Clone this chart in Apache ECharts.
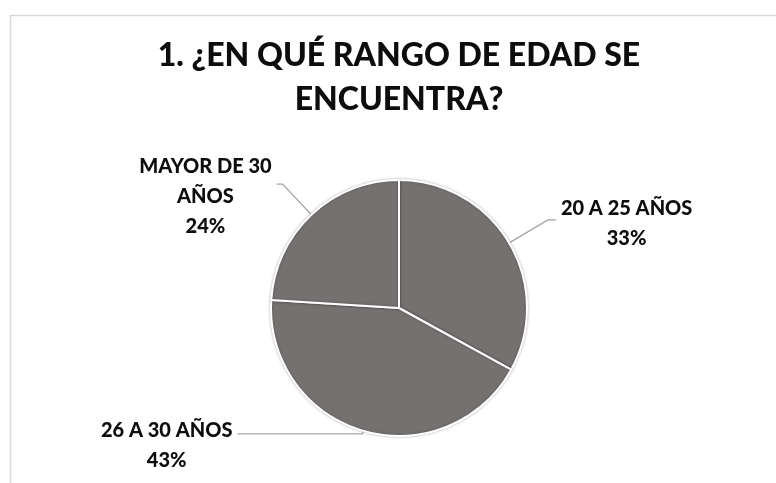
<!DOCTYPE html>
<html>
<head>
<meta charset="utf-8">
<title>Rango de edad</title>
<script src="https://cdn.jsdelivr.net/npm/echarts@6/dist/echarts.min.js"></script>
<style>
  html, body { margin: 0; padding: 0; background: #ffffff; }
  #chart { width: 776px; height: 483px; }
</style>
</head>
<body>
<div id="chart"></div>
<script>
// Survey question and answer groups
const chartTitle = '1. ¿EN QUÉ RANGO DE EDAD SE\nENCUENTRA?';
const categories = ['20 A 25 AÑOS', '26 A 30 AÑOS', 'MAYOR DE 30 AÑOS'];
const shares = [33, 43, 24];

// Per-slice label line lengths and vertical nudges of the label block
const labelTweaks = {
  '20 A 25 AÑOS':     { length: 45, length2: 8,   padTop: 8 },
  '26 A 30 AÑOS':     { length: 3,  length2: 125, padTop: 24 },
  'MAYOR DE 30 AÑOS': { length: 42, length2: 6,   padTop: 24 }
};

const FONT = 'Lato, "Open Sans", sans-serif';
const WEIGHT = 900;

// Break a category name into lines of at most `max` characters
function wrap(text, max) {
  const words = text.split(' ');
  const lines = [];
  let cur = '';
  words.forEach(function (w) {
    const next = cur ? cur + ' ' + w : w;
    if (next.length > max && cur) { lines.push(cur); cur = w; }
    else { cur = next; }
  });
  if (cur) lines.push(cur);
  return lines;
}

const pieData = categories.map(function (name, i) {
  const t = labelTweaks[name];
  return {
    name: name,
    value: shares[i],
    label: { padding: [t.padTop, 0, 0, 0] },
    labelLine: { length: t.length, length2: t.length2 }
  };
});

const chart = echarts.init(document.getElementById('chart'), null, { renderer: 'canvas' });

chart.setOption({
  backgroundColor: '#ffffff',
  animation: false,
  title: {
    text: chartTitle,
    left: 399,
    top: 34,
    padding: 0,
    textAlign: 'center',
    textStyle: {
      fontFamily: FONT,
      fontWeight: WEIGHT,
      fontSize: 32,
      lineHeight: 44,
      color: '#0d0d0d'
    }
  },
  graphic: [{
    type: 'rect',
    left: 8,
    top: 13,
    shape: { width: 800, height: 500 },
    style: { fill: 'none', stroke: '#d9d9d9', lineWidth: 1.5 },
    silent: true,
    z: -1
  }],
  series: [{
    type: 'pie',
    center: [399, 308],
    radius: 128,
    startAngle: 90,
    clockwise: true,
    avoidLabelOverlap: false,
    itemStyle: {
      color: '#767171',
      borderColor: '#ffffff',
      borderWidth: 2,
      shadowBlur: 3,
      shadowColor: 'rgba(0,0,0,0.25)'
    },
    label: {
      show: true,
      position: 'outside',
      distanceToLabelLine: 5,
      formatter: function (p) {
        const lines = wrap(p.name, 12);
        lines.push(Math.round(p.percent) + '%');
        return lines.map(function (l) { return '{c|' + l + '}'; }).join('\n');
      },
      rich: {
        c: {
          align: 'center',
          fontFamily: FONT,
          fontWeight: WEIGHT,
          fontSize: 20,
          lineHeight: 30,
          color: '#0d0d0d'
        }
      }
    },
    labelLine: {
      show: true,
      smooth: false,
      lineStyle: { color: '#a6a6a6', width: 1.3 }
    },
    emphasis: { disabled: true },
    data: pieData
  }]
});
</script>
</body>
</html>
